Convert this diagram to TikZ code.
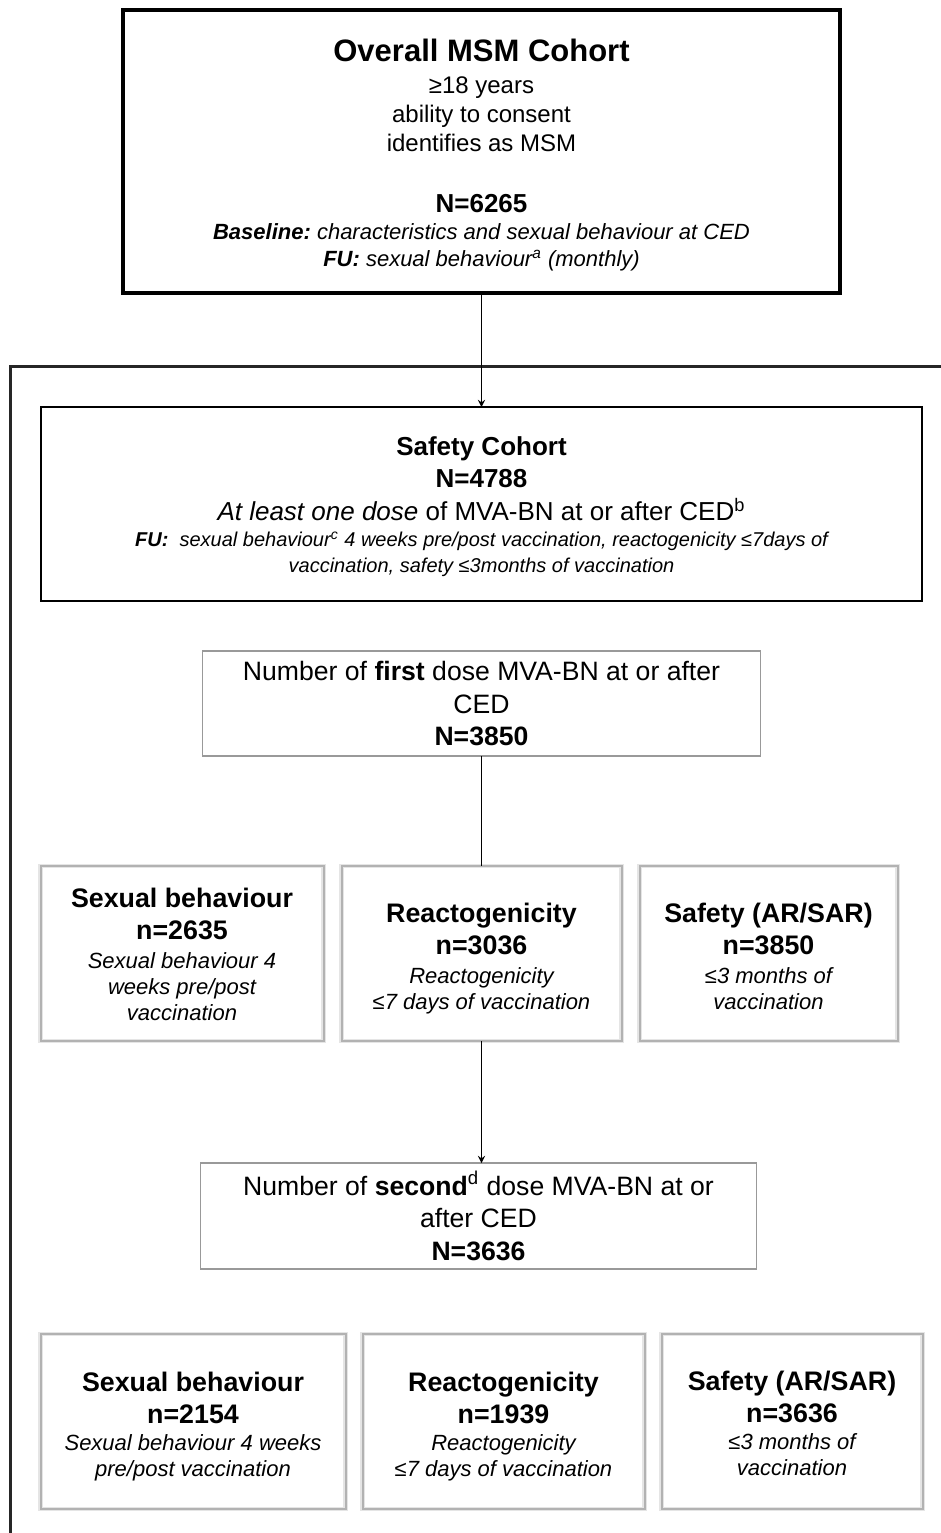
\documentclass[tikz,border=0pt]{standalone}
\usepackage{fontspec}
\setmainfont{Liberation Sans}
\usepackage{xcolor}
\usepackage{tikz}
\usetikzlibrary{arrows, positioning}
% strut that lowers a box's text block
\newcommand{\lowerby}[1]{\rule{0pt}{#1}}
\frenchspacing

\begin{document}
\begin{tikzpicture}[
    x=0.5pt, y=-0.5pt,
    box/.style={draw, rectangle, outer sep=0pt, inner sep=2pt, align=center, text=black},
    mainbox/.style={box, line width=2pt, minimum width=358.5pt, minimum height=141.5pt, font=\fontsize{12}{14.5}\selectfont},
    safetybox/.style={box, line width=1pt, minimum width=440.5pt, minimum height=97pt, font=\fontsize{13}{16}\selectfont},
    dosebox/.style={box, draw=black!40, line width=0.7pt, minimum height=52.5pt, font=\fontsize{13.3}{16.25}\selectfont},
    outbox/.style={box, draw=black!30, line width=1pt, preaction={draw=black!10, line width=2.2pt}, minimum height=87.5pt, font=\fontsize{13.4}{16}\selectfont},
    frame/.style={draw=black!85, line width=1.5pt},
    arrow/.style={->, >=stealth, line width=0.6pt},
    link/.style={line width=0.6pt}
]
\useasboundingbox (0,0) rectangle (941,1533);

% outer frame round the vaccinated part
\draw[frame] (941,366.5) -- (10.5,366.5) -- (10.5,1533);

\node[mainbox] (cohort) at (481.5,151.5) {%
\lowerby{15pt}{\fontsize{15.5}{18}\selectfont\bfseries Overall MSM Cohort}\\[1.5pt]
≥18 years\\
ability to consent\\
identifies as MSM\\[16pt]
{\fontsize{13}{15}\selectfont\bfseries N=6265}\\[-1pt]
{\fontsize{11}{13}\selectfont\itshape{\bfseries Baseline:} characteristics and sexual behaviour at CED}\\[-1pt]
{\fontsize{11}{13}\selectfont\itshape{\bfseries FU:} sexual behaviour\textsuperscript{a} (monthly)}};

\node[safetybox, below=57pt of cohort] (safety) {%
\lowerby{12pt}{\bfseries Safety Cohort}\\
{\bfseries N=4788}\\[0.5pt]
\textit{At least one dose} of MVA-BN at or after CED\textsuperscript{b}\\[-3pt]
{\fontsize{10}{12}\selectfont\itshape{\bfseries FU:}\ \ sexual behaviour\textsuperscript{c} 4 weeks pre/post vaccination, reactogenicity ≤7days of}\\[-3pt]
{\fontsize{10}{12}\selectfont\itshape vaccination, safety ≤3months of vaccination}};

\node[dosebox, minimum width=279pt, below=25pt of safety] (first) {%
Number of \textbf{first} dose MVA-BN at or after\\
CED\\
\textbf{N=3850}};

% first dose outcomes
\node[outbox, minimum width=140pt, below=55pt of first] (reacta) {%
\lowerby{14.8pt}\textbf{Reactogenicity}\\
\textbf{n=3036}\\[-1.5pt]
{\fontsize{11}{13}\selectfont\itshape Reactogenicity}\\[-3pt]
{\fontsize{11}{13}\selectfont\itshape ≤7 days of vaccination}};
\node[outbox, minimum width=141.5pt, left=9pt of reacta] (sexa) {%
\lowerby{11pt}\textbf{Sexual behaviour}\\
\textbf{n=2635}\\[-1.5pt]
{\fontsize{11}{13}\selectfont\itshape Sexual behaviour 4}\\[-3pt]
{\fontsize{11}{13}\selectfont\itshape weeks pre/post}\\[-3pt]
{\fontsize{11}{13}\selectfont\itshape vaccination}};
\node[outbox, minimum width=129pt, right=9pt of reacta] (safea) {%
\lowerby{13pt}\textbf{Safety (AR/SAR)}\\
\textbf{n=3850}\\[-1.5pt]
{\fontsize{11}{13}\selectfont\itshape ≤3 months of}\\[-3pt]
{\fontsize{11}{13}\selectfont\itshape vaccination}};

\node[dosebox, minimum width=278pt, minimum height=53pt, below=61pt of reacta, xshift=-1.5pt] (second) {%
Number of \textbf{second}\textsuperscript{d} dose MVA-BN at or\\
after CED\\
\textbf{N=3636}};

% second dose outcomes
\node[outbox, minimum width=141pt, below=32.5pt of second, xshift=12.5pt] (reactb) {%
\lowerby{14.5pt}\textbf{Reactogenicity}\\
\textbf{n=1939}\\[-2.5pt]
{\fontsize{11}{13}\selectfont\itshape Reactogenicity}\\[-3pt]
{\fontsize{11}{13}\selectfont\itshape ≤7 days of vaccination}};
\node[outbox, minimum width=152.5pt, left=8.5pt of reactb] (sexb) {%
\lowerby{14.3pt}\textbf{Sexual behaviour}\\
\textbf{n=2154}\\[-2.5pt]
{\fontsize{11}{13}\selectfont\itshape Sexual behaviour 4 weeks}\\[-3pt]
{\fontsize{11}{13}\selectfont\itshape pre/post vaccination}};
\node[outbox, minimum width=130.5pt, right=8.5pt of reactb] (safeb) {%
\lowerby{11.5pt}\textbf{Safety (AR/SAR)}\\
\textbf{n=3636}\\[-2.5pt]
{\fontsize{11}{13}\selectfont\itshape ≤3 months of}\\[-3pt]
{\fontsize{11}{13}\selectfont\itshape vaccination}};

\draw[arrow] (cohort) -- (safety);
\draw[link] (first) -- (reacta);
\draw[arrow] (reacta.south) -- (reacta.south |- second.north);

\end{tikzpicture}
\end{document}
